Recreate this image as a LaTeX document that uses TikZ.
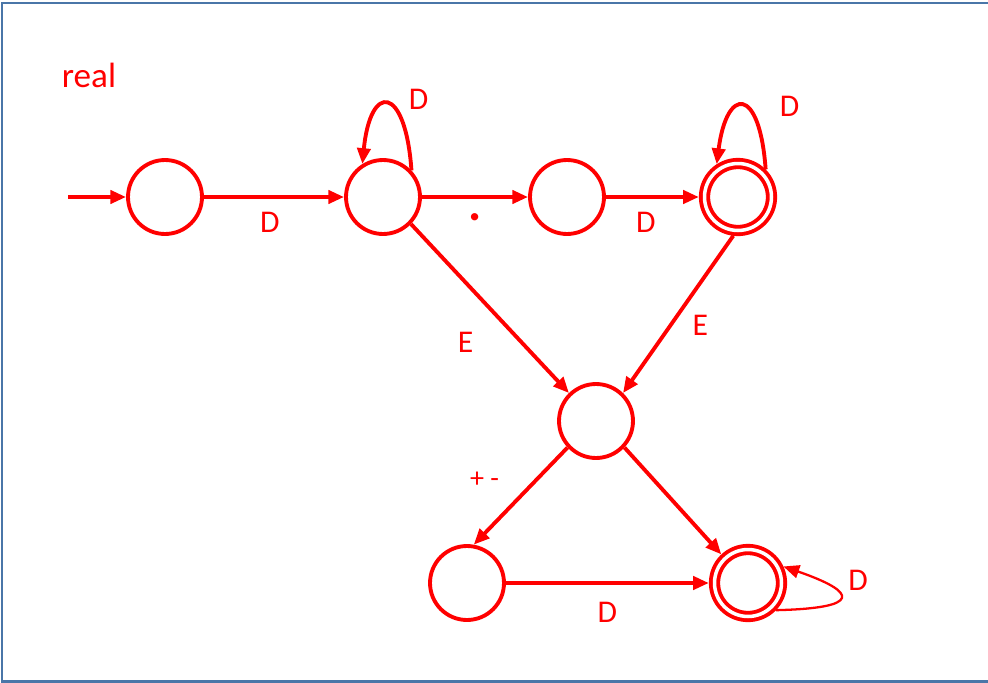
\documentclass[tikz,border=0pt]{standalone}
\usepackage{fontspec}
\setmainfont{Carlito}
\usetikzlibrary{arrows.meta}

\definecolor{frameblue}{RGB}{74,118,168}

\begin{document}
\begin{tikzpicture}[
      x=0.02cm, y=-0.02cm,
      >={Triangle[length=9pt, width=7.5pt]},
      state/.style={draw=red, circle, line width=2.2pt, minimum size=1.48cm, inner sep=0pt},
      accepting/.style={state, double, double distance=2pt, minimum size=1.34cm, outer sep=3.2pt},
      trans/.style={->, draw=red, line width=2.2pt},
      lbl/.style={text=red, font=\fontsize{18}{20}\selectfont, inner sep=0pt},
      ]

      \useasboundingbox (0,0) rectangle (988,683);
      \draw[frameblue, line width=1.7pt] (2,683) -- (2,3) -- (988,3);
      \draw[frameblue, line width=1.7pt] (2,681) -- (988,681);

      \node[lbl, font=\fontsize{20}{22}\selectfont] (realtitle) at (89,75) {real};

      % states
      \node[state] (q0) at (165,197) {};
      \node[state] (q1) at (383,197) {};
      \node[state] (q2) at (567,197) {};
      \node[accepting] (q3) at (738,197) {};
      \node[state] (q4) at (596,421) {};
      \node[state] (q5) at (467,583) {};
      \node[accepting] (q6) at (748,583) {};
      \coordinate (start) at (68,197);

      \draw[trans] (start) -- (q0);
      \draw[trans] (q0) -- node[lbl, pos=.47, yshift=-0.5cm] (lD01) {D} (q1);
      \draw[trans] (q1) -- node[lbl, pos=.5, yshift=-0.4cm, font=\fontsize{28}{28}\selectfont\bfseries] (lDot) {.} (q2);
      \draw[trans] (q2) -- node[lbl, pos=.43, yshift=-0.5cm] (lD23) {D} (q3);
      \draw[trans] (q1.-44) -- node[lbl, pos=.7, xshift=-1.12cm] (lE1) {E} (q4.134);
      \draw[trans] (q3.263) -- node[lbl, pos=.57, xshift=0.6cm] (lE2) {E} (q4.46);
      \draw[trans] (q4.223) -- node[lbl, pos=.33, xshift=-1.04cm, font=\fontsize{16}{18}\selectfont] (lPM) {+ -} (q5.80);
      \draw[trans] (q4.-43) -- (q6.133);
      \draw[trans] (q5) -- node[lbl, midway, yshift=-0.58cm] (lD56) {D} (q6);

      % loops
      \draw[trans] (q1.43) .. controls +(-6,-86) and +(8,-82) .. node[lbl, pos=.5, xshift=0.62cm, yshift=0.1cm] (lL1) {D} (q1.122);
      \draw[trans] (q3.45) .. controls +(-6,-84) and +(10,-78) .. node[lbl, pos=.5, xshift=0.94cm] (lL3) {D} (q3.123);
      \draw[trans, line width=1.3pt] (q6.-44) .. controls +(86,-2) and +(75,26) .. node[lbl, pos=.5, xshift=0.36cm, yshift=0.34cm] (lL6) {D} (q6.25);

    \end{tikzpicture}
\end{document}
